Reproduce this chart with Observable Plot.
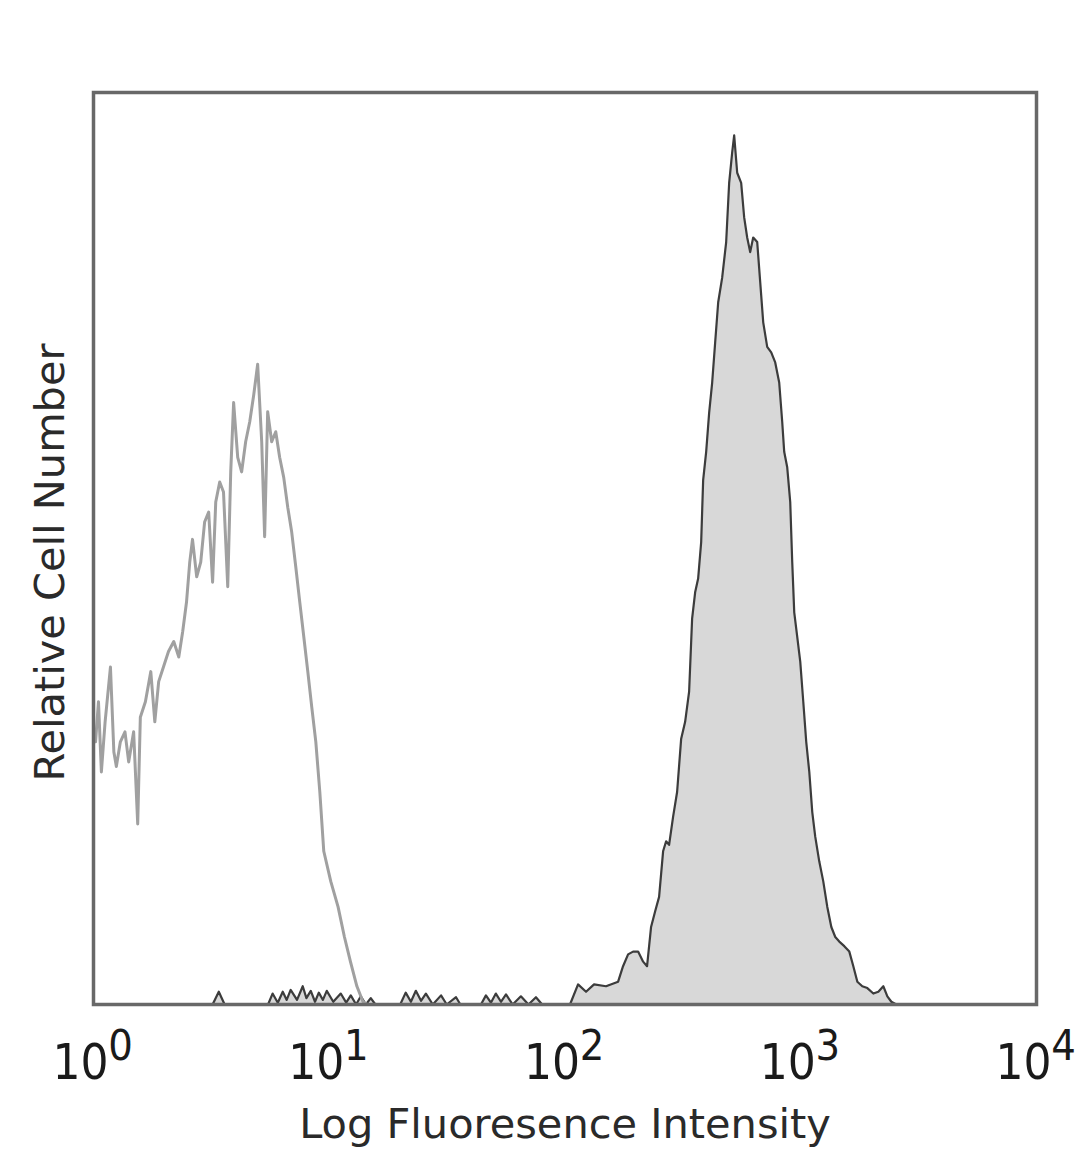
<!DOCTYPE html>
<html>
<head>
<meta charset="utf-8">
<script src="https://cdn.jsdelivr.net/npm/d3@7"></script>
<script src="https://cdn.jsdelivr.net/npm/@observablehq/plot@0.6"></script>
<style>
  html, body { margin: 0; padding: 0; background: #fff; }
  #chart svg { display: block; }
</style>
</head>
<body>
<div id="chart"></div>
<script>
// Isotype control histogram: [fluorescence intensity, relative cell number]
const controlHistogram = [
  [1.0,30.0],[1.02,28.8],[1.05,33.2],[1.08,25.5],[1.12,31.0],[1.18,37.0],[1.22,27.7],[1.25,26.1],
  [1.30,28.8],[1.36,29.9],[1.41,26.6],[1.48,29.9],[1.54,19.8],[1.58,31.5],[1.66,33.2],[1.75,36.5],
  [1.82,31.0],[1.89,35.4],[1.98,37.0],[2.08,38.7],[2.19,39.8],[2.30,38.1],[2.39,40.9],[2.48,44.1],
  [2.56,48.5],[2.63,51.0],[2.74,46.9],[2.85,48.5],[2.96,52.9],[3.08,54.0],[3.20,46.3],[3.30,55.1],
  [3.43,57.3],[3.56,56.2],[3.71,45.8],[3.82,58.4],[3.93,66.0],[4.09,60.0],[4.25,58.4],[4.42,61.7],
  [4.60,63.9],[4.78,66.8],[4.97,70.2],[5.17,61.7],[5.32,51.3],[5.48,65.0],[5.70,61.7],[5.93,62.8],
  [6.16,60.0],[6.41,57.8],[6.67,54.5],[6.93,51.8],[7.21,48.0],[7.50,44.1],[7.80,40.3],[8.11,36.5],
  [8.43,32.6],[8.77,28.8],[9.12,23.3],[9.48,16.8],[10.15,13.5],[10.9,10.7],[11.6,7.4],[12.3,4.7],
  [13.1,2.0],[13.9,0.3],[14.5,0]
];

// Stained sample histogram: [fluorescence intensity, relative cell number]
const sampleHistogram = [
  [1,0],[3.2,0],[3.4,1.4],[3.6,0],[5.5,0],[5.75,1.2],[6.05,0.2],[6.35,1.4],[6.6,0.5],[6.86,1.6],
  [7.3,0.5],[7.72,2.0],[8.0,0.7],[8.35,1.5],[8.7,0.3],[9.03,1.3],[9.4,0.5],[9.76,1.5],[10.4,0.3],
  [11.19,1.2],[11.8,0.2],[12.34,1.0],[13.0,0],[13.61,0.9],[14.3,0],[15.0,0.7],[15.7,0],[20.0,0],
  [21.1,1.3],[22.2,0.3],[23.3,1.5],[24.5,0.4],[25.7,1.2],[27.5,0],[29.8,1.0],[31.5,0],[34.5,0.8],
  [36,0],[44,0],[46.2,1.0],[48.5,0.2],[50.9,1.2],[53.5,0.3],[56.2,1.1],[60,0],[65,0.9],[70,0],
  [75.3,0.8],[80,0],[105,0],
  [113.6,2.2],[122.8,1.4],[132.8,2.2],[149.3,2.0],[168,2.5],[176.3,4.2],[185.2,5.5],[194.4,5.8],
  [204.2,5.8],[214.5,4.7],[222.9,4.2],[231.8,8.5],[241.1,10.2],[250.7,11.8],[260.7,16.8],[268.5,17.9],
  [276.4,17.5],[287.5,20.6],[298.9,23.3],[310.9,29.1],[323.3,31.0],[336.1,34.3],[346.1,42.3],
  [356.5,45.2],[367.1,46.7],[378.1,50.7],[385.5,57.5],[397,60.6],[408.8,64.9],[421,68.2],[433.5,72.6],
  [446.5,77.0],[464.2,79.7],[482.7,83.6],[497,90.1],[511.8,93.4],[521.9,95.3],[537.5,91.2],
  [558.8,90.1],[575.5,86.3],[592.6,84.1],[610.3,82.5],[628.5,84.1],[653.6,83.6],[673,79.2],
  [693.1,74.8],[720.6,72.1],[749.4,71.5],[779.3,70.4],[810.2,68.2],[834.3,63.9],[850.8,60.6],
  [876.2,58.9],[902.3,55.1],[920.2,48.5],[938.4,43.0],[966.3,40.3],[995.1,37.6],[1025,33.2],
  [1055,28.8],[1087,25.5],[1119,21.1],[1152,18.4],[1198,15.7],[1246,13.5],[1296,10.7],[1348,8.5],
  [1401,7.4],[1457,6.9],[1530,6.4],[1607,5.8],[1671,4.2],[1738,2.5],[1824,2.0],[1916,1.8],
  [2032,1.2],[2134,1.4],[2240,2.0],[2330,0.9],[2423,0.3],[2544,0],[10000,0]
];

const tickValues = [1, 10, 100, 1000, 10000];
const tickBase = "10";
const tickExponents = ["0", "1", "2", "3", "4"];
const xTitle = "Log Fluoresence Intensity";
const yTitle = "Relative Cell Number";

const tickFont = "'Liberation Sans Narrow', 'Arial Narrow', 'DejaVu Sans Condensed', sans-serif";
const titleFont = "'DejaVu Sans', Verdana, sans-serif";

const chart = Plot.plot({
  width: 1080,
  height: 1169,
  marginLeft: 93,
  marginRight: 44,
  marginTop: 92,
  marginBottom: 165,
  style: {background: "#fff"},
  x: {type: "log", domain: [1, 10000], axis: null},
  y: {domain: [0, 100], axis: null},
  marks: [
    Plot.areaY(sampleHistogram, {x: d => d[0], y: d => d[1], fill: "#d8d8d8"}),
    Plot.line(sampleHistogram, {x: d => d[0], y: d => d[1], stroke: "#3c3c3c", strokeWidth: 2.2}),
    Plot.line(controlHistogram, {x: d => d[0], y: d => d[1], stroke: "#a0a0a0", strokeWidth: 3}),
    Plot.frame({stroke: "#686868", strokeWidth: 3.5}),
    Plot.text(tickValues, {
      x: d => d, text: () => tickBase, frameAnchor: "bottom", lineAnchor: "bottom",
      dy: 74, dx: -13, fontSize: 49, fontFamily: tickFont, fill: "#1a1a1a"
    }),
    Plot.text(tickValues, {
      x: d => d, text: (d, i) => tickExponents[i], frameAnchor: "bottom", lineAnchor: "bottom",
      dy: 55, dx: 27, fontSize: 43, fontFamily: tickFont, fill: "#1a1a1a"
    }),
    Plot.text([xTitle], {
      text: d => d, frameAnchor: "bottom", lineAnchor: "bottom",
      dy: 133, fontSize: 41.5, fontFamily: titleFont, fill: "#2a2a2a"
    }),
    Plot.text([yTitle], {
      text: d => d, frameAnchor: "left", textAnchor: "middle", lineAnchor: "bottom", rotate: -90,
      dx: -30, dy: 14, fontSize: 41.5, fontFamily: titleFont, fill: "#2a2a2a"
    })
  ]
});
document.getElementById("chart").appendChild(chart);
</script>
</body>
</html>
